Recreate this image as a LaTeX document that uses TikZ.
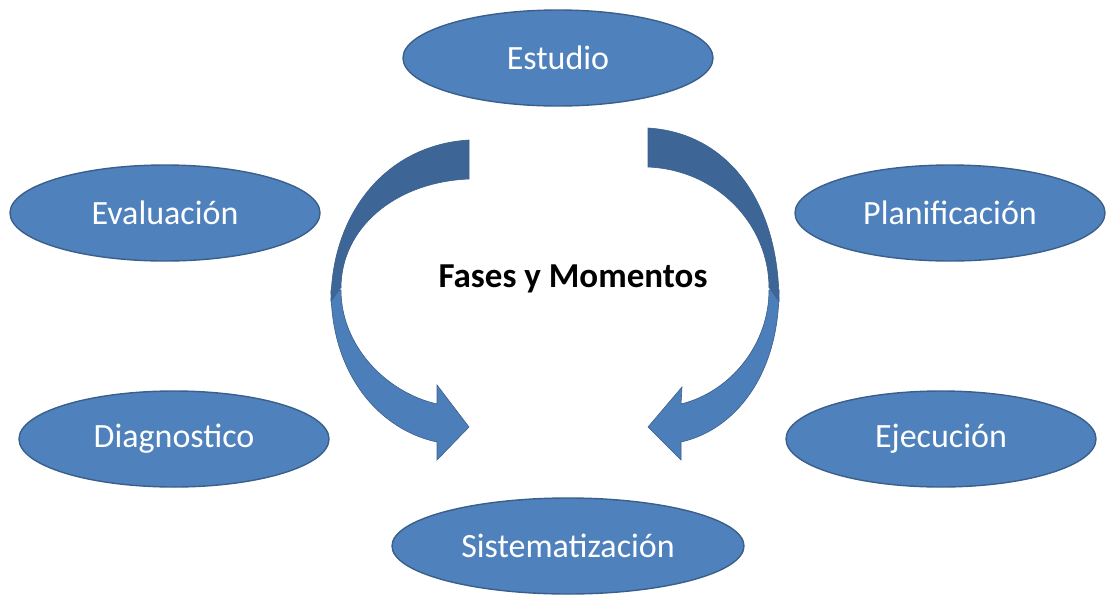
\documentclass[tikz,border=0pt]{standalone}
\usepackage{fontspec}
\setmainfont{Carlito}
\usetikzlibrary{shapes.geometric}
\definecolor{ofill}{HTML}{4F81BD}
\definecolor{oline}{HTML}{3A5F8B}
\definecolor{adark}{HTML}{3D6596}
\definecolor{alight}{HTML}{4C7EBA}
\tikzset{
  phase/.style={ellipse, draw=oline, line width=1.4pt, fill=ofill, text=white,
    minimum width=310pt, minimum height=96pt, inner sep=0pt,
    font=\fontsize{34}{40}\selectfont},
  arrdark/.style={fill=adark},
  arredge/.style={draw=oline, line width=0.6pt},
  arrlight/.style={fill=alight, draw=oline, line width=0.6pt}
}
\begin{document}
\begin{tikzpicture}[x=1pt,y=-1pt]
\useasboundingbox (0,0) rectangle (1108,595);
% ellipses
\node[phase] (estudio) at (558,58) {Estudio};
\node[phase] (evaluacion) at (165,213) {Evaluación};
\node[phase] (planificacion) at (950,213) {Planificación};
\node[phase] (diagnostico) at (174,439) {Diagnostico};
\node[phase] (ejecucion) at (941,439) {Ejecución};
\node[phase, minimum width=352pt] (sistematizacion) at (568,546) {Sistematización};
% center label
\node[font=\fontsize{35}{40}\selectfont\bfseries] (center) at (573,279) {Fases y Momentos};
% left curved arrow
\path[arrlight] (331,290) .. controls (331,375) and (380,430) .. (437,442)
  -- (437,460) -- (469,427) -- (437,385) -- (437,404)
  .. controls (385,392) and (341,345) .. (341,290) -- cycle;
\path[arrdark] (469,140) .. controls (385,145) and (331,215) .. (331,302)
  -- (341,288) .. controls (341,228) and (395,182) .. (469,179) -- cycle;
\path[arredge] (331,302) .. controls (331,215) and (385,145) .. (469,140) -- (469,179)
  .. controls (395,182) and (341,228) .. (341,288);
% right curved arrow
\path[arrlight] (779,290) .. controls (779,375) and (735,430) .. (681,442)
  -- (681,460) -- (648,427) -- (682,387) -- (681,404)
  .. controls (730,392) and (769,345) .. (769,290) -- cycle;
\path[arrdark] (648,128) .. controls (730,133) and (779,205) .. (779,302)
  -- (769,288) .. controls (769,225) and (718,170) .. (648,167) -- cycle;
\path[arredge] (779,302) .. controls (779,205) and (730,133) .. (648,128) -- (648,167)
  .. controls (718,170) and (769,225) .. (769,288);
\end{tikzpicture}
\end{document}
